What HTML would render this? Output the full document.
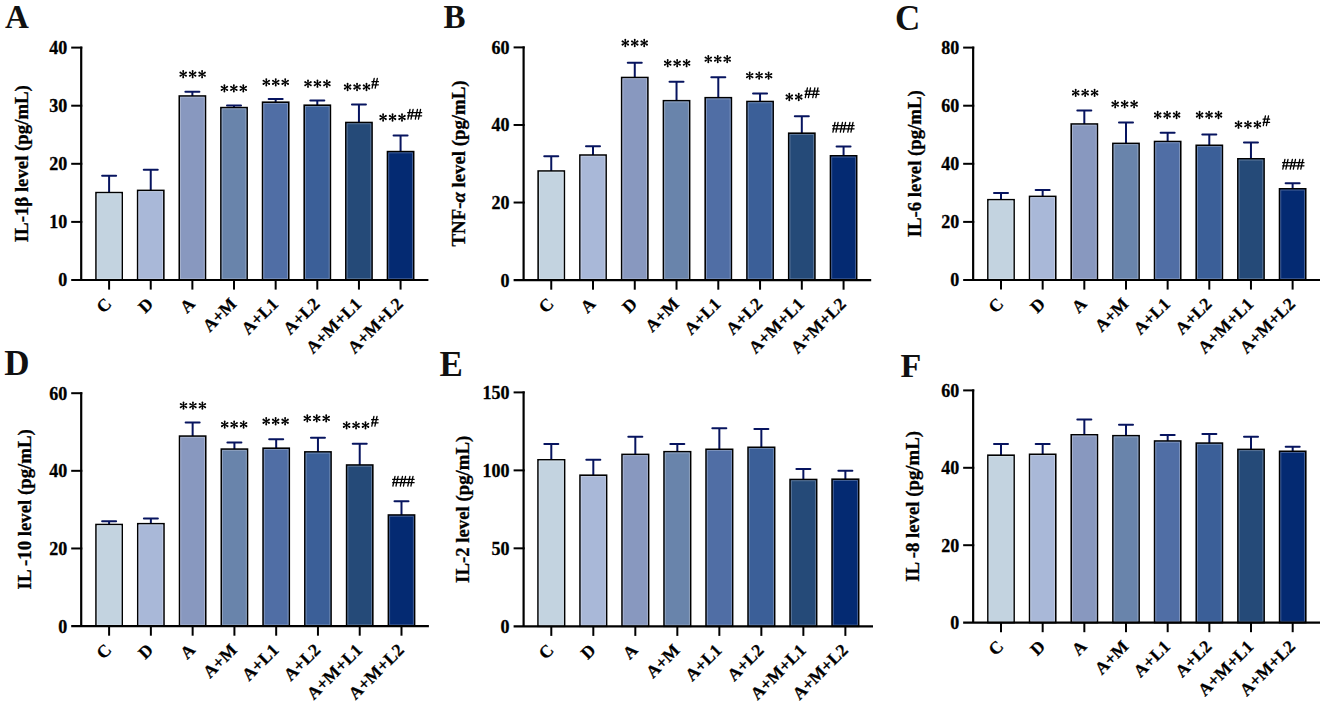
<!DOCTYPE html>
<html><head><meta charset="utf-8"><title>Cytokine levels</title>
<style>
html,body{margin:0;padding:0;background:#fff;}
svg{display:block;}
.pl{font-family:"Liberation Serif", serif;font-weight:bold;fill:#111;}
.yt{font-family:"Liberation Serif", serif;font-weight:bold;font-size:18px;text-anchor:end;fill:#000;stroke:#000;stroke-width:0.3px;}
.xl{font-family:"Liberation Serif", serif;font-weight:bold;font-size:17.6px;text-anchor:end;fill:#000;stroke:#000;stroke-width:0.25px;}
.yl{font-family:"Liberation Serif", serif;font-weight:bold;text-anchor:middle;fill:#000;stroke:#000;stroke-width:0.3px;}
.hs{font-family:"Liberation Serif", serif;font-weight:bold;font-size:16px;letter-spacing:-0.5px;fill:#000;stroke:#000;stroke-width:0.25px;}
</style></head>
<body>
<svg width="1325" height="706" viewBox="0 0 1325 706">
<rect width="1325" height="706" fill="#fff"/>
<defs><path id="st" d="M0.35,0.00L0.95,-3.20A0.95,0.95 0 1 0 -0.95,-3.20L-0.35,-0.00ZM0.17,-0.30L-2.30,-2.42A0.95,0.95 0 1 0 -3.25,-0.78L-0.17,0.30ZM-0.18,-0.30L-3.25,0.78A0.95,0.95 0 1 0 -2.30,2.42L0.18,0.30ZM-0.35,-0.00L-0.95,3.20A0.95,0.95 0 1 0 0.95,3.20L0.35,0.00ZM-0.18,0.30L2.30,2.42A0.95,0.95 0 1 0 3.25,0.78L0.18,-0.30ZM0.17,0.30L3.25,-0.78A0.95,0.95 0 1 0 2.30,-2.42L-0.17,-0.30Z" fill="#000"/></defs>
<g><text x="5" y="27.5" class="pl" font-size="33">A</text><line x1="109.10" y1="192.60" x2="109.10" y2="175.80" stroke="#07145f" stroke-width="2.0"/><line x1="102.10" y1="175.80" x2="116.10" y2="175.80" stroke="#07145f" stroke-width="2.0" stroke-linecap="round"/><rect x="96.00" y="192.60" width="26.20" height="87.40" fill="#c3d3e0" stroke="#000" stroke-width="1.6"/><rect x="97.25" y="193.85" width="23.70" height="84.90" fill="none" stroke="#d3dfe8" stroke-width="0.9"/><line x1="109.10" y1="280.00" x2="109.10" y2="289.60" stroke="#000" stroke-width="2.0"/><text x="112.60" y="305.00" class="xl" transform="rotate(-45 112.60 305.00)">C</text><line x1="150.74" y1="190.40" x2="150.74" y2="169.80" stroke="#07145f" stroke-width="2.0"/><line x1="143.74" y1="169.80" x2="157.74" y2="169.80" stroke="#07145f" stroke-width="2.0" stroke-linecap="round"/><rect x="137.64" y="190.40" width="26.20" height="89.60" fill="#a9b8d8" stroke="#000" stroke-width="1.6"/><rect x="138.89" y="191.65" width="23.70" height="87.10" fill="none" stroke="#c1cbe2" stroke-width="0.9"/><line x1="150.74" y1="280.00" x2="150.74" y2="289.60" stroke="#000" stroke-width="2.0"/><text x="154.24" y="305.00" class="xl" transform="rotate(-45 154.24 305.00)">D</text><line x1="192.38" y1="96.00" x2="192.38" y2="91.80" stroke="#07145f" stroke-width="2.0"/><line x1="185.38" y1="91.80" x2="199.38" y2="91.80" stroke="#07145f" stroke-width="2.0" stroke-linecap="round"/><rect x="179.28" y="96.00" width="26.20" height="184.00" fill="#8898bf" stroke="#000" stroke-width="1.6"/><rect x="180.53" y="97.25" width="23.70" height="181.50" fill="none" stroke="#a9b4d0" stroke-width="0.9"/><line x1="192.38" y1="280.00" x2="192.38" y2="289.60" stroke="#000" stroke-width="2.0"/><text x="195.88" y="305.00" class="xl" transform="rotate(-45 195.88 305.00)">A</text><line x1="234.02" y1="107.60" x2="234.02" y2="105.40" stroke="#07145f" stroke-width="2.0"/><line x1="227.02" y1="105.40" x2="241.02" y2="105.40" stroke="#07145f" stroke-width="2.0" stroke-linecap="round"/><rect x="220.92" y="107.60" width="26.20" height="172.40" fill="#6984ab" stroke="#000" stroke-width="1.6"/><rect x="222.17" y="108.85" width="23.70" height="169.90" fill="none" stroke="#93a6c2" stroke-width="0.9"/><line x1="234.02" y1="280.00" x2="234.02" y2="289.60" stroke="#000" stroke-width="2.0"/><text x="237.52" y="305.00" class="xl" transform="rotate(-45 237.52 305.00)">A+M</text><line x1="275.66" y1="102.20" x2="275.66" y2="99.10" stroke="#07145f" stroke-width="2.0"/><line x1="268.66" y1="99.10" x2="282.66" y2="99.10" stroke="#07145f" stroke-width="2.0" stroke-linecap="round"/><rect x="262.56" y="102.20" width="26.20" height="177.80" fill="#506ea5" stroke="#000" stroke-width="1.6"/><rect x="263.81" y="103.45" width="23.70" height="175.30" fill="none" stroke="#8196be" stroke-width="0.9"/><line x1="275.66" y1="280.00" x2="275.66" y2="289.60" stroke="#000" stroke-width="2.0"/><text x="279.16" y="305.00" class="xl" transform="rotate(-45 279.16 305.00)">A+L1</text><line x1="317.30" y1="105.20" x2="317.30" y2="100.50" stroke="#07145f" stroke-width="2.0"/><line x1="310.30" y1="100.50" x2="324.30" y2="100.50" stroke="#07145f" stroke-width="2.0" stroke-linecap="round"/><rect x="304.20" y="105.20" width="26.20" height="174.80" fill="#3b5f98" stroke="#000" stroke-width="1.6"/><rect x="305.45" y="106.45" width="23.70" height="172.30" fill="none" stroke="#718bb4" stroke-width="0.9"/><line x1="317.30" y1="280.00" x2="317.30" y2="289.60" stroke="#000" stroke-width="2.0"/><text x="320.80" y="305.00" class="xl" transform="rotate(-45 320.80 305.00)">A+L2</text><line x1="358.94" y1="122.50" x2="358.94" y2="104.40" stroke="#07145f" stroke-width="2.0"/><line x1="351.94" y1="104.40" x2="365.94" y2="104.40" stroke="#07145f" stroke-width="2.0" stroke-linecap="round"/><rect x="345.84" y="122.50" width="26.20" height="157.50" fill="#254a78" stroke="#000" stroke-width="1.6"/><rect x="347.09" y="123.75" width="23.70" height="155.00" fill="none" stroke="#627c9d" stroke-width="0.9"/><line x1="358.94" y1="280.00" x2="358.94" y2="289.60" stroke="#000" stroke-width="2.0"/><text x="362.44" y="305.00" class="xl" transform="rotate(-45 362.44 305.00)">A+M+L1</text><line x1="400.58" y1="151.60" x2="400.58" y2="135.40" stroke="#07145f" stroke-width="2.0"/><line x1="393.58" y1="135.40" x2="407.58" y2="135.40" stroke="#07145f" stroke-width="2.0" stroke-linecap="round"/><rect x="387.48" y="151.60" width="26.20" height="128.40" fill="#042a72" stroke="#000" stroke-width="1.6"/><rect x="388.73" y="152.85" width="23.70" height="125.90" fill="none" stroke="#4a6599" stroke-width="0.9"/><line x1="400.58" y1="280.00" x2="400.58" y2="289.60" stroke="#000" stroke-width="2.0"/><text x="404.08" y="305.00" class="xl" transform="rotate(-45 404.08 305.00)">A+M+L2</text><line x1="81.20" y1="46.60" x2="81.20" y2="280.00" stroke="#000" stroke-width="2.2"/><line x1="71.20" y1="280.00" x2="428.40" y2="280.00" stroke="#000" stroke-width="2.2"/><text x="67.20" y="286.40" class="yt">0</text><line x1="71.20" y1="221.90" x2="82.30" y2="221.90" stroke="#000" stroke-width="2.0"/><text x="67.20" y="228.30" class="yt">10</text><line x1="71.20" y1="163.80" x2="82.30" y2="163.80" stroke="#000" stroke-width="2.0"/><text x="67.20" y="170.20" class="yt">20</text><line x1="71.20" y1="105.70" x2="82.30" y2="105.70" stroke="#000" stroke-width="2.0"/><text x="67.20" y="112.10" class="yt">30</text><line x1="71.20" y1="47.60" x2="82.30" y2="47.60" stroke="#000" stroke-width="2.0"/><text x="67.20" y="54.00" class="yt">40</text><text x="28.40" y="163.70" class="yl" font-size="18.8" transform="rotate(-90 28.40 163.70)">IL-1β level (pg/mL)</text><use href="#st" x="183.20" y="74.20"/><use href="#st" x="192.65" y="74.20"/><use href="#st" x="202.10" y="74.20"/><use href="#st" x="224.40" y="88.40"/><use href="#st" x="233.85" y="88.40"/><use href="#st" x="243.30" y="88.40"/><use href="#st" x="266.30" y="82.30"/><use href="#st" x="275.75" y="82.30"/><use href="#st" x="285.20" y="82.30"/><use href="#st" x="308.00" y="83.70"/><use href="#st" x="317.45" y="83.70"/><use href="#st" x="326.90" y="83.70"/><use href="#st" x="347.60" y="87.00"/><use href="#st" x="357.05" y="87.00"/><use href="#st" x="366.50" y="87.00"/><path d="M371.90,81.65H378.40M371.90,84.85H378.40M374.20,78.50L372.10,88.20M377.30,78.50L375.20,88.20" stroke="#000" stroke-width="1.3" stroke-linecap="round" fill="none"/><use href="#st" x="383.10" y="117.50"/><use href="#st" x="392.55" y="117.50"/><use href="#st" x="402.00" y="117.50"/><path d="M407.70,112.65H421.65M407.70,115.85H421.65M410.00,109.50L407.90,119.20M413.10,109.50L411.00,119.20M417.45,109.50L415.35,119.20M420.55,109.50L418.45,119.20" stroke="#000" stroke-width="1.3" stroke-linecap="round" fill="none"/></g>
<g><text x="443.5" y="27.5" class="pl" font-size="33">B</text><line x1="551.25" y1="171.00" x2="551.25" y2="156.30" stroke="#07145f" stroke-width="2.0"/><line x1="544.25" y1="156.30" x2="558.25" y2="156.30" stroke="#07145f" stroke-width="2.0" stroke-linecap="round"/><rect x="538.15" y="171.00" width="26.20" height="109.10" fill="#c3d3e0" stroke="#000" stroke-width="1.6"/><rect x="539.40" y="172.25" width="23.70" height="106.60" fill="none" stroke="#d3dfe8" stroke-width="0.9"/><line x1="551.25" y1="280.10" x2="551.25" y2="289.70" stroke="#000" stroke-width="2.0"/><text x="554.75" y="305.10" class="xl" transform="rotate(-45 554.75 305.10)">C</text><line x1="593.01" y1="155.05" x2="593.01" y2="146.20" stroke="#07145f" stroke-width="2.0"/><line x1="586.01" y1="146.20" x2="600.01" y2="146.20" stroke="#07145f" stroke-width="2.0" stroke-linecap="round"/><rect x="579.91" y="155.05" width="26.20" height="125.05" fill="#a9b8d8" stroke="#000" stroke-width="1.6"/><rect x="581.16" y="156.30" width="23.70" height="122.55" fill="none" stroke="#c1cbe2" stroke-width="0.9"/><line x1="593.01" y1="280.10" x2="593.01" y2="289.70" stroke="#000" stroke-width="2.0"/><text x="596.51" y="305.10" class="xl" transform="rotate(-45 596.51 305.10)">A</text><line x1="634.77" y1="77.50" x2="634.77" y2="62.80" stroke="#07145f" stroke-width="2.0"/><line x1="627.77" y1="62.80" x2="641.77" y2="62.80" stroke="#07145f" stroke-width="2.0" stroke-linecap="round"/><rect x="621.67" y="77.50" width="26.20" height="202.60" fill="#8898bf" stroke="#000" stroke-width="1.6"/><rect x="622.92" y="78.75" width="23.70" height="200.10" fill="none" stroke="#a9b4d0" stroke-width="0.9"/><line x1="634.77" y1="280.10" x2="634.77" y2="289.70" stroke="#000" stroke-width="2.0"/><text x="638.27" y="305.10" class="xl" transform="rotate(-45 638.27 305.10)">D</text><line x1="676.53" y1="100.70" x2="676.53" y2="81.70" stroke="#07145f" stroke-width="2.0"/><line x1="669.53" y1="81.70" x2="683.53" y2="81.70" stroke="#07145f" stroke-width="2.0" stroke-linecap="round"/><rect x="663.43" y="100.70" width="26.20" height="179.40" fill="#6984ab" stroke="#000" stroke-width="1.6"/><rect x="664.68" y="101.95" width="23.70" height="176.90" fill="none" stroke="#93a6c2" stroke-width="0.9"/><line x1="676.53" y1="280.10" x2="676.53" y2="289.70" stroke="#000" stroke-width="2.0"/><text x="680.03" y="305.10" class="xl" transform="rotate(-45 680.03 305.10)">A+M</text><line x1="718.29" y1="97.70" x2="718.29" y2="77.20" stroke="#07145f" stroke-width="2.0"/><line x1="711.29" y1="77.20" x2="725.29" y2="77.20" stroke="#07145f" stroke-width="2.0" stroke-linecap="round"/><rect x="705.19" y="97.70" width="26.20" height="182.40" fill="#506ea5" stroke="#000" stroke-width="1.6"/><rect x="706.44" y="98.95" width="23.70" height="179.90" fill="none" stroke="#8196be" stroke-width="0.9"/><line x1="718.29" y1="280.10" x2="718.29" y2="289.70" stroke="#000" stroke-width="2.0"/><text x="721.79" y="305.10" class="xl" transform="rotate(-45 721.79 305.10)">A+L1</text><line x1="760.05" y1="101.50" x2="760.05" y2="93.60" stroke="#07145f" stroke-width="2.0"/><line x1="753.05" y1="93.60" x2="767.05" y2="93.60" stroke="#07145f" stroke-width="2.0" stroke-linecap="round"/><rect x="746.95" y="101.50" width="26.20" height="178.60" fill="#3b5f98" stroke="#000" stroke-width="1.6"/><rect x="748.20" y="102.75" width="23.70" height="176.10" fill="none" stroke="#718bb4" stroke-width="0.9"/><line x1="760.05" y1="280.10" x2="760.05" y2="289.70" stroke="#000" stroke-width="2.0"/><text x="763.55" y="305.10" class="xl" transform="rotate(-45 763.55 305.10)">A+L2</text><line x1="801.81" y1="133.20" x2="801.81" y2="116.30" stroke="#07145f" stroke-width="2.0"/><line x1="794.81" y1="116.30" x2="808.81" y2="116.30" stroke="#07145f" stroke-width="2.0" stroke-linecap="round"/><rect x="788.71" y="133.20" width="26.20" height="146.90" fill="#254a78" stroke="#000" stroke-width="1.6"/><rect x="789.96" y="134.45" width="23.70" height="144.40" fill="none" stroke="#627c9d" stroke-width="0.9"/><line x1="801.81" y1="280.10" x2="801.81" y2="289.70" stroke="#000" stroke-width="2.0"/><text x="805.31" y="305.10" class="xl" transform="rotate(-45 805.31 305.10)">A+M+L1</text><line x1="843.57" y1="155.80" x2="843.57" y2="146.60" stroke="#07145f" stroke-width="2.0"/><line x1="836.57" y1="146.60" x2="850.57" y2="146.60" stroke="#07145f" stroke-width="2.0" stroke-linecap="round"/><rect x="830.47" y="155.80" width="26.20" height="124.30" fill="#042a72" stroke="#000" stroke-width="1.6"/><rect x="831.72" y="157.05" width="23.70" height="121.80" fill="none" stroke="#4a6599" stroke-width="0.9"/><line x1="843.57" y1="280.10" x2="843.57" y2="289.70" stroke="#000" stroke-width="2.0"/><text x="847.07" y="305.10" class="xl" transform="rotate(-45 847.07 305.10)">A+M+L2</text><line x1="523.60" y1="46.40" x2="523.60" y2="280.10" stroke="#000" stroke-width="2.2"/><line x1="513.60" y1="280.10" x2="871.20" y2="280.10" stroke="#000" stroke-width="2.2"/><text x="509.60" y="286.50" class="yt">0</text><line x1="513.60" y1="202.53" x2="524.70" y2="202.53" stroke="#000" stroke-width="2.0"/><text x="509.60" y="208.93" class="yt">20</text><line x1="513.60" y1="124.97" x2="524.70" y2="124.97" stroke="#000" stroke-width="2.0"/><text x="509.60" y="131.37" class="yt">40</text><line x1="513.60" y1="47.40" x2="524.70" y2="47.40" stroke="#000" stroke-width="2.0"/><text x="509.60" y="53.80" class="yt">60</text><text x="464.90" y="163.50" class="yl" font-size="18.8" transform="rotate(-90 464.90 163.50)">TNF-<tspan font-style="italic">α</tspan> level (pg/mL)</text><use href="#st" x="625.30" y="43.00"/><use href="#st" x="634.75" y="43.00"/><use href="#st" x="644.20" y="43.00"/><use href="#st" x="667.70" y="63.20"/><use href="#st" x="677.15" y="63.20"/><use href="#st" x="686.60" y="63.20"/><use href="#st" x="708.30" y="59.10"/><use href="#st" x="717.75" y="59.10"/><use href="#st" x="727.20" y="59.10"/><use href="#st" x="749.70" y="75.60"/><use href="#st" x="759.15" y="75.60"/><use href="#st" x="768.60" y="75.60"/><use href="#st" x="789.30" y="97.00"/><use href="#st" x="798.75" y="97.00"/><path d="M805.10,91.15H819.05M805.10,94.35H819.05M807.40,88.00L805.30,97.70M810.50,88.00L808.40,97.70M814.85,88.00L812.75,97.70M817.95,88.00L815.85,97.70" stroke="#000" stroke-width="1.3" stroke-linecap="round" fill="none"/><path d="M832.70,125.65H854.10M832.70,128.85H854.10M835.00,122.50L832.90,132.20M838.10,122.50L836.00,132.20M842.45,122.50L840.35,132.20M845.55,122.50L843.45,132.20M849.90,122.50L847.80,132.20M853.00,122.50L850.90,132.20" stroke="#000" stroke-width="1.3" stroke-linecap="round" fill="none"/></g>
<g><text x="895" y="30" class="pl" font-size="35">C</text><line x1="1001.00" y1="199.70" x2="1001.00" y2="193.10" stroke="#07145f" stroke-width="2.0"/><line x1="994.00" y1="193.10" x2="1008.00" y2="193.10" stroke="#07145f" stroke-width="2.0" stroke-linecap="round"/><rect x="987.90" y="199.70" width="26.20" height="80.30" fill="#c3d3e0" stroke="#000" stroke-width="1.6"/><rect x="989.15" y="200.95" width="23.70" height="77.80" fill="none" stroke="#d3dfe8" stroke-width="0.9"/><line x1="1001.00" y1="280.00" x2="1001.00" y2="289.60" stroke="#000" stroke-width="2.0"/><text x="1004.50" y="305.00" class="xl" transform="rotate(-45 1004.50 305.00)">C</text><line x1="1042.66" y1="196.40" x2="1042.66" y2="190.10" stroke="#07145f" stroke-width="2.0"/><line x1="1035.66" y1="190.10" x2="1049.66" y2="190.10" stroke="#07145f" stroke-width="2.0" stroke-linecap="round"/><rect x="1029.56" y="196.40" width="26.20" height="83.60" fill="#a9b8d8" stroke="#000" stroke-width="1.6"/><rect x="1030.81" y="197.65" width="23.70" height="81.10" fill="none" stroke="#c1cbe2" stroke-width="0.9"/><line x1="1042.66" y1="280.00" x2="1042.66" y2="289.60" stroke="#000" stroke-width="2.0"/><text x="1046.16" y="305.00" class="xl" transform="rotate(-45 1046.16 305.00)">D</text><line x1="1084.32" y1="124.00" x2="1084.32" y2="110.40" stroke="#07145f" stroke-width="2.0"/><line x1="1077.32" y1="110.40" x2="1091.32" y2="110.40" stroke="#07145f" stroke-width="2.0" stroke-linecap="round"/><rect x="1071.22" y="124.00" width="26.20" height="156.00" fill="#8898bf" stroke="#000" stroke-width="1.6"/><rect x="1072.47" y="125.25" width="23.70" height="153.50" fill="none" stroke="#a9b4d0" stroke-width="0.9"/><line x1="1084.32" y1="280.00" x2="1084.32" y2="289.60" stroke="#000" stroke-width="2.0"/><text x="1087.82" y="305.00" class="xl" transform="rotate(-45 1087.82 305.00)">A</text><line x1="1125.98" y1="143.40" x2="1125.98" y2="122.40" stroke="#07145f" stroke-width="2.0"/><line x1="1118.98" y1="122.40" x2="1132.98" y2="122.40" stroke="#07145f" stroke-width="2.0" stroke-linecap="round"/><rect x="1112.88" y="143.40" width="26.20" height="136.60" fill="#6984ab" stroke="#000" stroke-width="1.6"/><rect x="1114.13" y="144.65" width="23.70" height="134.10" fill="none" stroke="#93a6c2" stroke-width="0.9"/><line x1="1125.98" y1="280.00" x2="1125.98" y2="289.60" stroke="#000" stroke-width="2.0"/><text x="1129.48" y="305.00" class="xl" transform="rotate(-45 1129.48 305.00)">A+M</text><line x1="1167.64" y1="141.50" x2="1167.64" y2="132.70" stroke="#07145f" stroke-width="2.0"/><line x1="1160.64" y1="132.70" x2="1174.64" y2="132.70" stroke="#07145f" stroke-width="2.0" stroke-linecap="round"/><rect x="1154.54" y="141.50" width="26.20" height="138.50" fill="#506ea5" stroke="#000" stroke-width="1.6"/><rect x="1155.79" y="142.75" width="23.70" height="136.00" fill="none" stroke="#8196be" stroke-width="0.9"/><line x1="1167.64" y1="280.00" x2="1167.64" y2="289.60" stroke="#000" stroke-width="2.0"/><text x="1171.14" y="305.00" class="xl" transform="rotate(-45 1171.14 305.00)">A+L1</text><line x1="1209.30" y1="145.30" x2="1209.30" y2="134.40" stroke="#07145f" stroke-width="2.0"/><line x1="1202.30" y1="134.40" x2="1216.30" y2="134.40" stroke="#07145f" stroke-width="2.0" stroke-linecap="round"/><rect x="1196.20" y="145.30" width="26.20" height="134.70" fill="#3b5f98" stroke="#000" stroke-width="1.6"/><rect x="1197.45" y="146.55" width="23.70" height="132.20" fill="none" stroke="#718bb4" stroke-width="0.9"/><line x1="1209.30" y1="280.00" x2="1209.30" y2="289.60" stroke="#000" stroke-width="2.0"/><text x="1212.80" y="305.00" class="xl" transform="rotate(-45 1212.80 305.00)">A+L2</text><line x1="1250.96" y1="158.80" x2="1250.96" y2="142.50" stroke="#07145f" stroke-width="2.0"/><line x1="1243.96" y1="142.50" x2="1257.96" y2="142.50" stroke="#07145f" stroke-width="2.0" stroke-linecap="round"/><rect x="1237.86" y="158.80" width="26.20" height="121.20" fill="#254a78" stroke="#000" stroke-width="1.6"/><rect x="1239.11" y="160.05" width="23.70" height="118.70" fill="none" stroke="#627c9d" stroke-width="0.9"/><line x1="1250.96" y1="280.00" x2="1250.96" y2="289.60" stroke="#000" stroke-width="2.0"/><text x="1254.46" y="305.00" class="xl" transform="rotate(-45 1254.46 305.00)">A+M+L1</text><line x1="1292.62" y1="188.80" x2="1292.62" y2="183.30" stroke="#07145f" stroke-width="2.0"/><line x1="1285.62" y1="183.30" x2="1299.62" y2="183.30" stroke="#07145f" stroke-width="2.0" stroke-linecap="round"/><rect x="1279.52" y="188.80" width="26.20" height="91.20" fill="#042a72" stroke="#000" stroke-width="1.6"/><rect x="1280.77" y="190.05" width="23.70" height="88.70" fill="none" stroke="#4a6599" stroke-width="0.9"/><line x1="1292.62" y1="280.00" x2="1292.62" y2="289.60" stroke="#000" stroke-width="2.0"/><text x="1296.12" y="305.00" class="xl" transform="rotate(-45 1296.12 305.00)">A+M+L2</text><line x1="973.15" y1="46.60" x2="973.15" y2="280.00" stroke="#000" stroke-width="2.2"/><line x1="963.15" y1="280.00" x2="1320.00" y2="280.00" stroke="#000" stroke-width="2.2"/><text x="959.15" y="286.40" class="yt">0</text><line x1="963.15" y1="221.90" x2="974.25" y2="221.90" stroke="#000" stroke-width="2.0"/><text x="959.15" y="228.30" class="yt">20</text><line x1="963.15" y1="163.80" x2="974.25" y2="163.80" stroke="#000" stroke-width="2.0"/><text x="959.15" y="170.20" class="yt">40</text><line x1="963.15" y1="105.70" x2="974.25" y2="105.70" stroke="#000" stroke-width="2.0"/><text x="959.15" y="112.10" class="yt">60</text><line x1="963.15" y1="47.60" x2="974.25" y2="47.60" stroke="#000" stroke-width="2.0"/><text x="959.15" y="54.00" class="yt">80</text><text x="920.80" y="163.75" class="yl" font-size="18.8" transform="rotate(-90 920.80 163.75)">IL-6 level (pg/mL)</text><use href="#st" x="1075.70" y="92.80"/><use href="#st" x="1085.15" y="92.80"/><use href="#st" x="1094.60" y="92.80"/><use href="#st" x="1115.20" y="104.20"/><use href="#st" x="1124.65" y="104.20"/><use href="#st" x="1134.10" y="104.20"/><use href="#st" x="1157.70" y="115.00"/><use href="#st" x="1167.15" y="115.00"/><use href="#st" x="1176.60" y="115.00"/><use href="#st" x="1199.60" y="115.00"/><use href="#st" x="1209.05" y="115.00"/><use href="#st" x="1218.50" y="115.00"/><use href="#st" x="1238.50" y="124.70"/><use href="#st" x="1247.95" y="124.70"/><use href="#st" x="1257.40" y="124.70"/><path d="M1263.10,119.15H1269.60M1263.10,122.35H1269.60M1265.40,116.00L1263.30,125.70M1268.50,116.00L1266.40,125.70" stroke="#000" stroke-width="1.3" stroke-linecap="round" fill="none"/><path d="M1282.60,162.65H1304.00M1282.60,165.85H1304.00M1284.90,159.50L1282.80,169.20M1288.00,159.50L1285.90,169.20M1292.35,159.50L1290.25,169.20M1295.45,159.50L1293.35,169.20M1299.80,159.50L1297.70,169.20M1302.90,159.50L1300.80,169.20" stroke="#000" stroke-width="1.3" stroke-linecap="round" fill="none"/></g>
<g><text x="4.3" y="375" class="pl" font-size="35">D</text><line x1="109.10" y1="524.50" x2="109.10" y2="521.20" stroke="#07145f" stroke-width="2.0"/><line x1="102.10" y1="521.20" x2="116.10" y2="521.20" stroke="#07145f" stroke-width="2.0" stroke-linecap="round"/><rect x="96.00" y="524.50" width="26.20" height="101.60" fill="#c3d3e0" stroke="#000" stroke-width="1.6"/><rect x="97.25" y="525.75" width="23.70" height="99.10" fill="none" stroke="#d3dfe8" stroke-width="0.9"/><line x1="109.10" y1="626.10" x2="109.10" y2="635.70" stroke="#000" stroke-width="2.0"/><text x="112.60" y="651.10" class="xl" transform="rotate(-45 112.60 651.10)">C</text><line x1="150.87" y1="523.70" x2="150.87" y2="518.40" stroke="#07145f" stroke-width="2.0"/><line x1="143.87" y1="518.40" x2="157.87" y2="518.40" stroke="#07145f" stroke-width="2.0" stroke-linecap="round"/><rect x="137.77" y="523.70" width="26.20" height="102.40" fill="#a9b8d8" stroke="#000" stroke-width="1.6"/><rect x="139.02" y="524.95" width="23.70" height="99.90" fill="none" stroke="#c1cbe2" stroke-width="0.9"/><line x1="150.87" y1="626.10" x2="150.87" y2="635.70" stroke="#000" stroke-width="2.0"/><text x="154.37" y="651.10" class="xl" transform="rotate(-45 154.37 651.10)">D</text><line x1="192.64" y1="436.10" x2="192.64" y2="422.50" stroke="#07145f" stroke-width="2.0"/><line x1="185.64" y1="422.50" x2="199.64" y2="422.50" stroke="#07145f" stroke-width="2.0" stroke-linecap="round"/><rect x="179.54" y="436.10" width="26.20" height="190.00" fill="#8898bf" stroke="#000" stroke-width="1.6"/><rect x="180.79" y="437.35" width="23.70" height="187.50" fill="none" stroke="#a9b4d0" stroke-width="0.9"/><line x1="192.64" y1="626.10" x2="192.64" y2="635.70" stroke="#000" stroke-width="2.0"/><text x="196.14" y="651.10" class="xl" transform="rotate(-45 196.14 651.10)">A</text><line x1="234.41" y1="449.10" x2="234.41" y2="442.40" stroke="#07145f" stroke-width="2.0"/><line x1="227.41" y1="442.40" x2="241.41" y2="442.40" stroke="#07145f" stroke-width="2.0" stroke-linecap="round"/><rect x="221.31" y="449.10" width="26.20" height="177.00" fill="#6984ab" stroke="#000" stroke-width="1.6"/><rect x="222.56" y="450.35" width="23.70" height="174.50" fill="none" stroke="#93a6c2" stroke-width="0.9"/><line x1="234.41" y1="626.10" x2="234.41" y2="635.70" stroke="#000" stroke-width="2.0"/><text x="237.91" y="651.10" class="xl" transform="rotate(-45 237.91 651.10)">A+M</text><line x1="276.18" y1="448.20" x2="276.18" y2="439.20" stroke="#07145f" stroke-width="2.0"/><line x1="269.18" y1="439.20" x2="283.18" y2="439.20" stroke="#07145f" stroke-width="2.0" stroke-linecap="round"/><rect x="263.08" y="448.20" width="26.20" height="177.90" fill="#506ea5" stroke="#000" stroke-width="1.6"/><rect x="264.33" y="449.45" width="23.70" height="175.40" fill="none" stroke="#8196be" stroke-width="0.9"/><line x1="276.18" y1="626.10" x2="276.18" y2="635.70" stroke="#000" stroke-width="2.0"/><text x="279.68" y="651.10" class="xl" transform="rotate(-45 279.68 651.10)">A+L1</text><line x1="317.95" y1="451.90" x2="317.95" y2="437.70" stroke="#07145f" stroke-width="2.0"/><line x1="310.95" y1="437.70" x2="324.95" y2="437.70" stroke="#07145f" stroke-width="2.0" stroke-linecap="round"/><rect x="304.85" y="451.90" width="26.20" height="174.20" fill="#3b5f98" stroke="#000" stroke-width="1.6"/><rect x="306.10" y="453.15" width="23.70" height="171.70" fill="none" stroke="#718bb4" stroke-width="0.9"/><line x1="317.95" y1="626.10" x2="317.95" y2="635.70" stroke="#000" stroke-width="2.0"/><text x="321.45" y="651.10" class="xl" transform="rotate(-45 321.45 651.10)">A+L2</text><line x1="359.72" y1="465.00" x2="359.72" y2="443.80" stroke="#07145f" stroke-width="2.0"/><line x1="352.72" y1="443.80" x2="366.72" y2="443.80" stroke="#07145f" stroke-width="2.0" stroke-linecap="round"/><rect x="346.62" y="465.00" width="26.20" height="161.10" fill="#254a78" stroke="#000" stroke-width="1.6"/><rect x="347.87" y="466.25" width="23.70" height="158.60" fill="none" stroke="#627c9d" stroke-width="0.9"/><line x1="359.72" y1="626.10" x2="359.72" y2="635.70" stroke="#000" stroke-width="2.0"/><text x="363.22" y="651.10" class="xl" transform="rotate(-45 363.22 651.10)">A+M+L1</text><line x1="401.49" y1="515.00" x2="401.49" y2="501.20" stroke="#07145f" stroke-width="2.0"/><line x1="394.49" y1="501.20" x2="408.49" y2="501.20" stroke="#07145f" stroke-width="2.0" stroke-linecap="round"/><rect x="388.39" y="515.00" width="26.20" height="111.10" fill="#042a72" stroke="#000" stroke-width="1.6"/><rect x="389.64" y="516.25" width="23.70" height="108.60" fill="none" stroke="#4a6599" stroke-width="0.9"/><line x1="401.49" y1="626.10" x2="401.49" y2="635.70" stroke="#000" stroke-width="2.0"/><text x="404.99" y="651.10" class="xl" transform="rotate(-45 404.99 651.10)">A+M+L2</text><line x1="81.20" y1="392.20" x2="81.20" y2="626.10" stroke="#000" stroke-width="2.2"/><line x1="71.20" y1="626.10" x2="428.90" y2="626.10" stroke="#000" stroke-width="2.2"/><text x="67.20" y="632.50" class="yt">0</text><line x1="71.20" y1="548.47" x2="82.30" y2="548.47" stroke="#000" stroke-width="2.0"/><text x="67.20" y="554.87" class="yt">20</text><line x1="71.20" y1="470.83" x2="82.30" y2="470.83" stroke="#000" stroke-width="2.0"/><text x="67.20" y="477.23" class="yt">40</text><line x1="71.20" y1="393.20" x2="82.30" y2="393.20" stroke="#000" stroke-width="2.0"/><text x="67.20" y="399.60" class="yt">60</text><text x="30.80" y="509.35" class="yl" font-size="18.8" transform="rotate(-90 30.80 509.35)">IL -10 level (pg/mL)</text><use href="#st" x="183.50" y="405.60"/><use href="#st" x="192.95" y="405.60"/><use href="#st" x="202.40" y="405.60"/><use href="#st" x="224.70" y="424.55"/><use href="#st" x="234.15" y="424.55"/><use href="#st" x="243.60" y="424.55"/><use href="#st" x="266.20" y="421.25"/><use href="#st" x="275.65" y="421.25"/><use href="#st" x="285.10" y="421.25"/><use href="#st" x="307.30" y="418.40"/><use href="#st" x="316.75" y="418.40"/><use href="#st" x="326.20" y="418.40"/><use href="#st" x="346.60" y="425.30"/><use href="#st" x="356.05" y="425.30"/><use href="#st" x="365.50" y="425.30"/><path d="M371.60,419.65H378.10M371.60,422.85H378.10M373.90,416.50L371.80,426.20M377.00,416.50L374.90,426.20" stroke="#000" stroke-width="1.3" stroke-linecap="round" fill="none"/><path d="M392.70,479.45H414.10M392.70,482.65H414.10M395.00,476.30L392.90,486.00M398.10,476.30L396.00,486.00M402.45,476.30L400.35,486.00M405.55,476.30L403.45,486.00M409.90,476.30L407.80,486.00M413.00,476.30L410.90,486.00" stroke="#000" stroke-width="1.3" stroke-linecap="round" fill="none"/></g>
<g><text x="439.5" y="375.7" class="pl" font-size="35">E</text><line x1="551.30" y1="459.80" x2="551.30" y2="444.00" stroke="#07145f" stroke-width="2.0"/><line x1="544.30" y1="444.00" x2="558.30" y2="444.00" stroke="#07145f" stroke-width="2.0" stroke-linecap="round"/><rect x="538.00" y="459.80" width="26.60" height="166.50" fill="#c3d3e0" stroke="#000" stroke-width="1.6"/><rect x="539.25" y="461.05" width="24.10" height="164.00" fill="none" stroke="#d3dfe8" stroke-width="0.9"/><line x1="551.30" y1="626.30" x2="551.30" y2="635.90" stroke="#000" stroke-width="2.0"/><text x="554.80" y="651.30" class="xl" transform="rotate(-45 554.80 651.30)">C</text><line x1="593.31" y1="475.20" x2="593.31" y2="459.80" stroke="#07145f" stroke-width="2.0"/><line x1="586.31" y1="459.80" x2="600.31" y2="459.80" stroke="#07145f" stroke-width="2.0" stroke-linecap="round"/><rect x="580.01" y="475.20" width="26.60" height="151.10" fill="#a9b8d8" stroke="#000" stroke-width="1.6"/><rect x="581.26" y="476.45" width="24.10" height="148.60" fill="none" stroke="#c1cbe2" stroke-width="0.9"/><line x1="593.31" y1="626.30" x2="593.31" y2="635.90" stroke="#000" stroke-width="2.0"/><text x="596.81" y="651.30" class="xl" transform="rotate(-45 596.81 651.30)">D</text><line x1="635.32" y1="454.40" x2="635.32" y2="436.70" stroke="#07145f" stroke-width="2.0"/><line x1="628.32" y1="436.70" x2="642.32" y2="436.70" stroke="#07145f" stroke-width="2.0" stroke-linecap="round"/><rect x="622.02" y="454.40" width="26.60" height="171.90" fill="#8898bf" stroke="#000" stroke-width="1.6"/><rect x="623.27" y="455.65" width="24.10" height="169.40" fill="none" stroke="#a9b4d0" stroke-width="0.9"/><line x1="635.32" y1="626.30" x2="635.32" y2="635.90" stroke="#000" stroke-width="2.0"/><text x="638.82" y="651.30" class="xl" transform="rotate(-45 638.82 651.30)">A</text><line x1="677.33" y1="451.70" x2="677.33" y2="444.00" stroke="#07145f" stroke-width="2.0"/><line x1="670.33" y1="444.00" x2="684.33" y2="444.00" stroke="#07145f" stroke-width="2.0" stroke-linecap="round"/><rect x="664.03" y="451.70" width="26.60" height="174.60" fill="#6984ab" stroke="#000" stroke-width="1.6"/><rect x="665.28" y="452.95" width="24.10" height="172.10" fill="none" stroke="#93a6c2" stroke-width="0.9"/><line x1="677.33" y1="626.30" x2="677.33" y2="635.90" stroke="#000" stroke-width="2.0"/><text x="680.83" y="651.30" class="xl" transform="rotate(-45 680.83 651.30)">A+M</text><line x1="719.34" y1="449.30" x2="719.34" y2="428.30" stroke="#07145f" stroke-width="2.0"/><line x1="712.34" y1="428.30" x2="726.34" y2="428.30" stroke="#07145f" stroke-width="2.0" stroke-linecap="round"/><rect x="706.04" y="449.30" width="26.60" height="177.00" fill="#506ea5" stroke="#000" stroke-width="1.6"/><rect x="707.29" y="450.55" width="24.10" height="174.50" fill="none" stroke="#8196be" stroke-width="0.9"/><line x1="719.34" y1="626.30" x2="719.34" y2="635.90" stroke="#000" stroke-width="2.0"/><text x="722.84" y="651.30" class="xl" transform="rotate(-45 722.84 651.30)">A+L1</text><line x1="761.35" y1="447.30" x2="761.35" y2="429.10" stroke="#07145f" stroke-width="2.0"/><line x1="754.35" y1="429.10" x2="768.35" y2="429.10" stroke="#07145f" stroke-width="2.0" stroke-linecap="round"/><rect x="748.05" y="447.30" width="26.60" height="179.00" fill="#3b5f98" stroke="#000" stroke-width="1.6"/><rect x="749.30" y="448.55" width="24.10" height="176.50" fill="none" stroke="#718bb4" stroke-width="0.9"/><line x1="761.35" y1="626.30" x2="761.35" y2="635.90" stroke="#000" stroke-width="2.0"/><text x="764.85" y="651.30" class="xl" transform="rotate(-45 764.85 651.30)">A+L2</text><line x1="803.36" y1="479.50" x2="803.36" y2="469.10" stroke="#07145f" stroke-width="2.0"/><line x1="796.36" y1="469.10" x2="810.36" y2="469.10" stroke="#07145f" stroke-width="2.0" stroke-linecap="round"/><rect x="790.06" y="479.50" width="26.60" height="146.80" fill="#254a78" stroke="#000" stroke-width="1.6"/><rect x="791.31" y="480.75" width="24.10" height="144.30" fill="none" stroke="#627c9d" stroke-width="0.9"/><line x1="803.36" y1="626.30" x2="803.36" y2="635.90" stroke="#000" stroke-width="2.0"/><text x="806.86" y="651.30" class="xl" transform="rotate(-45 806.86 651.30)">A+M+L1</text><line x1="845.37" y1="479.20" x2="845.37" y2="470.80" stroke="#07145f" stroke-width="2.0"/><line x1="838.37" y1="470.80" x2="852.37" y2="470.80" stroke="#07145f" stroke-width="2.0" stroke-linecap="round"/><rect x="832.07" y="479.20" width="26.60" height="147.10" fill="#042a72" stroke="#000" stroke-width="1.6"/><rect x="833.32" y="480.45" width="24.10" height="144.60" fill="none" stroke="#4a6599" stroke-width="0.9"/><line x1="845.37" y1="626.30" x2="845.37" y2="635.90" stroke="#000" stroke-width="2.0"/><text x="848.87" y="651.30" class="xl" transform="rotate(-45 848.87 651.30)">A+M+L2</text><line x1="523.60" y1="391.40" x2="523.60" y2="626.30" stroke="#000" stroke-width="2.2"/><line x1="513.60" y1="626.30" x2="873.00" y2="626.30" stroke="#000" stroke-width="2.2"/><text x="509.60" y="632.70" class="yt">0</text><line x1="513.60" y1="548.33" x2="524.70" y2="548.33" stroke="#000" stroke-width="2.0"/><text x="509.60" y="554.73" class="yt">50</text><line x1="513.60" y1="470.37" x2="524.70" y2="470.37" stroke="#000" stroke-width="2.0"/><text x="509.60" y="476.77" class="yt">100</text><line x1="513.60" y1="392.40" x2="524.70" y2="392.40" stroke="#000" stroke-width="2.0"/><text x="509.60" y="398.80" class="yt">150</text><text x="468.70" y="509.35" class="yl" font-size="18.8" transform="rotate(-90 468.70 509.35)">IL-2 level (pg/mL)</text></g>
<g><text x="900.5" y="377.4" class="pl" font-size="34">F</text><line x1="1001.00" y1="455.20" x2="1001.00" y2="444.00" stroke="#07145f" stroke-width="2.0"/><line x1="994.00" y1="444.00" x2="1008.00" y2="444.00" stroke="#07145f" stroke-width="2.0" stroke-linecap="round"/><rect x="987.90" y="455.20" width="26.20" height="167.40" fill="#c3d3e0" stroke="#000" stroke-width="1.6"/><rect x="989.15" y="456.45" width="23.70" height="164.90" fill="none" stroke="#d3dfe8" stroke-width="0.9"/><line x1="1001.00" y1="622.60" x2="1001.00" y2="632.20" stroke="#000" stroke-width="2.0"/><text x="1004.50" y="647.60" class="xl" transform="rotate(-45 1004.50 647.60)">C</text><line x1="1042.67" y1="454.30" x2="1042.67" y2="444.00" stroke="#07145f" stroke-width="2.0"/><line x1="1035.67" y1="444.00" x2="1049.67" y2="444.00" stroke="#07145f" stroke-width="2.0" stroke-linecap="round"/><rect x="1029.57" y="454.30" width="26.20" height="168.30" fill="#a9b8d8" stroke="#000" stroke-width="1.6"/><rect x="1030.82" y="455.55" width="23.70" height="165.80" fill="none" stroke="#c1cbe2" stroke-width="0.9"/><line x1="1042.67" y1="622.60" x2="1042.67" y2="632.20" stroke="#000" stroke-width="2.0"/><text x="1046.17" y="647.60" class="xl" transform="rotate(-45 1046.17 647.60)">D</text><line x1="1084.34" y1="434.80" x2="1084.34" y2="419.40" stroke="#07145f" stroke-width="2.0"/><line x1="1077.34" y1="419.40" x2="1091.34" y2="419.40" stroke="#07145f" stroke-width="2.0" stroke-linecap="round"/><rect x="1071.24" y="434.80" width="26.20" height="187.80" fill="#8898bf" stroke="#000" stroke-width="1.6"/><rect x="1072.49" y="436.05" width="23.70" height="185.30" fill="none" stroke="#a9b4d0" stroke-width="0.9"/><line x1="1084.34" y1="622.60" x2="1084.34" y2="632.20" stroke="#000" stroke-width="2.0"/><text x="1087.84" y="647.60" class="xl" transform="rotate(-45 1087.84 647.60)">A</text><line x1="1126.01" y1="435.70" x2="1126.01" y2="424.80" stroke="#07145f" stroke-width="2.0"/><line x1="1119.01" y1="424.80" x2="1133.01" y2="424.80" stroke="#07145f" stroke-width="2.0" stroke-linecap="round"/><rect x="1112.91" y="435.70" width="26.20" height="186.90" fill="#6984ab" stroke="#000" stroke-width="1.6"/><rect x="1114.16" y="436.95" width="23.70" height="184.40" fill="none" stroke="#93a6c2" stroke-width="0.9"/><line x1="1126.01" y1="622.60" x2="1126.01" y2="632.20" stroke="#000" stroke-width="2.0"/><text x="1129.51" y="647.60" class="xl" transform="rotate(-45 1129.51 647.60)">A+M</text><line x1="1167.68" y1="441.00" x2="1167.68" y2="435.00" stroke="#07145f" stroke-width="2.0"/><line x1="1160.68" y1="435.00" x2="1174.68" y2="435.00" stroke="#07145f" stroke-width="2.0" stroke-linecap="round"/><rect x="1154.58" y="441.00" width="26.20" height="181.60" fill="#506ea5" stroke="#000" stroke-width="1.6"/><rect x="1155.83" y="442.25" width="23.70" height="179.10" fill="none" stroke="#8196be" stroke-width="0.9"/><line x1="1167.68" y1="622.60" x2="1167.68" y2="632.20" stroke="#000" stroke-width="2.0"/><text x="1171.18" y="647.60" class="xl" transform="rotate(-45 1171.18 647.60)">A+L1</text><line x1="1209.35" y1="443.10" x2="1209.35" y2="434.10" stroke="#07145f" stroke-width="2.0"/><line x1="1202.35" y1="434.10" x2="1216.35" y2="434.10" stroke="#07145f" stroke-width="2.0" stroke-linecap="round"/><rect x="1196.25" y="443.10" width="26.20" height="179.50" fill="#3b5f98" stroke="#000" stroke-width="1.6"/><rect x="1197.50" y="444.35" width="23.70" height="177.00" fill="none" stroke="#718bb4" stroke-width="0.9"/><line x1="1209.35" y1="622.60" x2="1209.35" y2="632.20" stroke="#000" stroke-width="2.0"/><text x="1212.85" y="647.60" class="xl" transform="rotate(-45 1212.85 647.60)">A+L2</text><line x1="1251.02" y1="449.40" x2="1251.02" y2="436.70" stroke="#07145f" stroke-width="2.0"/><line x1="1244.02" y1="436.70" x2="1258.02" y2="436.70" stroke="#07145f" stroke-width="2.0" stroke-linecap="round"/><rect x="1237.92" y="449.40" width="26.20" height="173.20" fill="#254a78" stroke="#000" stroke-width="1.6"/><rect x="1239.17" y="450.65" width="23.70" height="170.70" fill="none" stroke="#627c9d" stroke-width="0.9"/><line x1="1251.02" y1="622.60" x2="1251.02" y2="632.20" stroke="#000" stroke-width="2.0"/><text x="1254.52" y="647.60" class="xl" transform="rotate(-45 1254.52 647.60)">A+M+L1</text><line x1="1292.69" y1="451.30" x2="1292.69" y2="446.80" stroke="#07145f" stroke-width="2.0"/><line x1="1285.69" y1="446.80" x2="1299.69" y2="446.80" stroke="#07145f" stroke-width="2.0" stroke-linecap="round"/><rect x="1279.59" y="451.30" width="26.20" height="171.30" fill="#042a72" stroke="#000" stroke-width="1.6"/><rect x="1280.84" y="452.55" width="23.70" height="168.80" fill="none" stroke="#4a6599" stroke-width="0.9"/><line x1="1292.69" y1="622.60" x2="1292.69" y2="632.20" stroke="#000" stroke-width="2.0"/><text x="1296.19" y="647.60" class="xl" transform="rotate(-45 1296.19 647.60)">A+M+L2</text><line x1="973.15" y1="389.40" x2="973.15" y2="622.60" stroke="#000" stroke-width="2.2"/><line x1="963.15" y1="622.60" x2="1320.00" y2="622.60" stroke="#000" stroke-width="2.2"/><text x="959.15" y="629.00" class="yt">0</text><line x1="963.15" y1="545.20" x2="974.25" y2="545.20" stroke="#000" stroke-width="2.0"/><text x="959.15" y="551.60" class="yt">20</text><line x1="963.15" y1="467.80" x2="974.25" y2="467.80" stroke="#000" stroke-width="2.0"/><text x="959.15" y="474.20" class="yt">40</text><line x1="963.15" y1="390.40" x2="974.25" y2="390.40" stroke="#000" stroke-width="2.0"/><text x="959.15" y="396.80" class="yt">60</text><text x="919.40" y="506.40" class="yl" font-size="18.8" transform="rotate(-90 919.40 506.40)">IL -8 level (pg/mL)</text></g>
</svg>
</body></html>
